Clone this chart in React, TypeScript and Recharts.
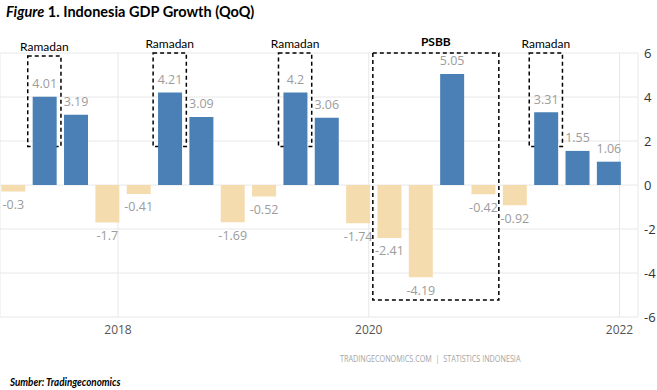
import { Bar, BarChart, CartesianGrid, Cell, LabelList, ReferenceArea, XAxis, YAxis } from "recharts";

// quarterly GDP growth, QoQ %
const quarters = [
    "2017Q1", "2017Q2", "2017Q3", "2017Q4",
    "2018Q1", "2018Q2", "2018Q3", "2018Q4",
    "2019Q1", "2019Q2", "2019Q3", "2019Q4",
    "2020Q1", "2020Q2", "2020Q3", "2020Q4",
    "2021Q1", "2021Q2", "2021Q3", "2021Q4",
];
const growth = [
    -0.3, 4.01, 3.19, -1.7,
    -0.41, 4.21, 3.09, -1.69,
    -0.52, 4.2, 3.06, -1.74,
    -2.41, -4.19, 5.05, -0.42,
    -0.92, 3.31, 1.55, 1.06,
];
const yearTicks = ["2018", "2020", "2022"];
const yTicks = [-6, -4, -2, 0, 2, 4, 6];
const ramadanQuarters = ["2017Q2", "2018Q2", "2019Q2", "2021Q2"];
const psbbQuarters = ["2020Q1", "2020Q4"];

const data = quarters.map((q, i) => ({ q, i, value: growth[i] }));

// year gridline sits just inside the right edge of the previous Q4 bar
const tickPos = yearTicks.map((y) => quarters.indexOf(`${Number(y) - 1}Q4`) + 0.35);

const BLUE = "#4a80b6";
const TAN = "#f5dcae";

const ValueLabel = (props: any) => {
    const { x, y, width, height, value } = props;
    const top = Math.min(y, y + height);
    const bottom = Math.max(y, y + height);
    const cy = value >= 0 ? top - 13 : bottom + 13;
    return (
        <text x={x + width / 2} y={cy} dy="0.35em" textAnchor="middle" fill="#9c9c9c"
            fontSize={12.5} fontFamily="'Open Sans', sans-serif">
            {value}
        </text>
    );
};

export default function App() {
    const boxStyle = { fill: "none", fillOpacity: 0, stroke: "#000", strokeWidth: 1.5, strokeDasharray: "4 3" };
    return (
        <div style={{ position: "absolute", left: 0, top: 0, width: 657, height: 390, background: "#fff", fontFamily: "Lato, sans-serif" }}>
            <div style={{ position: "absolute", left: 6, top: 3, fontSize: 14.5, fontWeight: 700, color: "#000", whiteSpace: "nowrap" }}>
                <i>Figure</i> 1. Indonesia GDP Growth (QoQ)
            </div>
            <BarChart width={657} height={390} data={data}
                margin={{ top: 53, right: 0, left: 0, bottom: 53 }}>
                <CartesianGrid stroke="#e8e8e8" />
                <XAxis dataKey="i" type="number" domain={[-0.415, 19.94]} allowDataOverflow
                    ticks={tickPos} tickFormatter={(v: number) => yearTicks[tickPos.indexOf(v)]}
                    axisLine={false} tickLine={false} height={20}
                    tick={{ fill: "#555", fontSize: 12, fontFamily: "'Open Sans', sans-serif" }} />
                <YAxis orientation="right" width={19} domain={[-6, 6]} ticks={yTicks}
                    axisLine={false} tickLine={false} tickSize={4} tickMargin={2}
                    tick={{ fill: "#333", fontSize: 13, fontFamily: "'Open Sans', sans-serif" }} />
                <Bar dataKey="value" barSize={24} isAnimationActive={false}>
                    {data.map((d) => (
                        <Cell key={d.q} fill={d.value >= 0 ? BLUE : TAN} />
                    ))}
                    <LabelList dataKey="value" content={ValueLabel} />
                </Bar>
                {ramadanQuarters.map((q, k) => {
                    const idx = quarters.indexOf(q);
                    return (
                        <ReferenceArea key={q} x1={idx - 0.53} x2={idx + 0.53} y1={1.75} y2={k === 0 ? 5.86 : 6}
                            ifOverflow="visible" {...boxStyle}
                            label={{ value: "Ramadan", position: "top", offset: 5, fill: "#000", fontSize: 12, fontFamily: "Lato, sans-serif" }} />
                    );
                })}
                <ReferenceArea x1={quarters.indexOf(psbbQuarters[0]) - 0.52} x2={quarters.indexOf(psbbQuarters[1]) + 0.5}
                    y1={-5.23} y2={6} ifOverflow="visible" {...boxStyle}
                    label={{ value: "PSBB", position: "top", offset: 7, fill: "#000", fontSize: 12, fontWeight: 700, fontFamily: "Lato, sans-serif" }} />
            </BarChart>
            <div style={{ position: "absolute", left: 340, top: 353, fontSize: 8.5, color: "#a5a5a5", whiteSpace: "nowrap",
                fontFamily: "'Open Sans', sans-serif", transform: "scaleX(0.85)", transformOrigin: "left center" }}>
                TRADINGECONOMICS.COM &nbsp;|&nbsp; STATISTICS INDONESIA
            </div>
            <div style={{ position: "absolute", left: 10, top: 374, fontSize: 12, fontWeight: 700, fontStyle: "italic", color: "#000", whiteSpace: "nowrap",
                transform: "scaleX(0.82)", transformOrigin: "left center" }}>
                Sumber: Tradingeconomics
            </div>
        </div>
    );
}
